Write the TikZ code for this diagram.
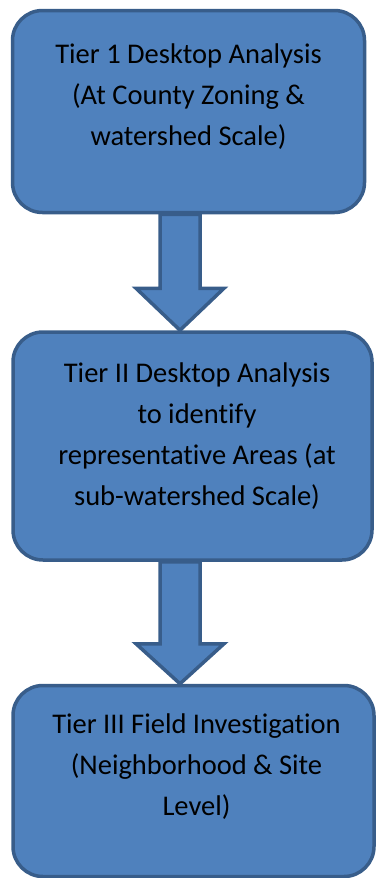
\documentclass[tikz,border=0pt]{standalone}
\usepackage{fontspec}
\setmainfont{Carlito}[Ligatures=NoCommon]
\usepackage{xcolor}
\usepackage{tikz}
\usetikzlibrary{positioning, calc}
\definecolor{tierfill}{HTML}{4F81BD}
\definecolor{tierline}{HTML}{385D8A}

\begin{document}
\begin{tikzpicture}[
      x=1pt, y=-1pt,
      tierbox/.style={draw=tierline, fill=tierfill, line width=3.5pt,
                      rounded corners=30pt, inner sep=0pt},
      tiertext/.style={align=center, text=black,
                       font=\fontsize{28.5}{41}\selectfont},
      fatarrow/.style={draw=tierline, fill=tierfill, line width=3.5pt,
                       line join=miter}]
    \useasboundingbox (0,0) rectangle (375,878);
    \node[tierbox, minimum width=352pt, minimum height=202pt] (b1) at (188.5,111.5) {};
    \node[tierbox, minimum width=359pt, minimum height=228pt] (b2) at (192.5,446) {};
    \node[tierbox, minimum width=361pt, minimum height=191pt] (b3) at (193.5,781) {};
    \node[tiertext] (t1) at ([yshift=14.5pt]b1.center)
        {Tier 1 Desktop Analysis\\(At County Zoning \&\\watershed Scale)};
    \node[tiertext] (t2) at ([xshift=4.5pt, yshift=10pt]b2.center)
        {Tier II Desktop Analysis\\to identify\\representative Areas (at\\sub-watershed Scale)};
    \node[tiertext] (t3) at ([xshift=3pt, yshift=14pt]b3.center)
        {Tier III Field Investigation\\(Neighborhood \& Site\\Level)};
    % block arrows between the tiers
    \path (b1.south) ++(-8.5,0) coordinate (s1);
    \path (b2.north) ++(-12.5,0) coordinate (e1);
    \path (b2.south) ++(-12.5,0) coordinate (s2);
    \path (b3.north) ++(-13.5,0) coordinate (e2);
    \draw[fatarrow] ($(s1)+(-20,0)$) -- ($(s1)+(20,0)$) -- ($(e1)+(20,-42)$)
        -- ($(e1)+(44,-42)$) -- (e1) -- ($(e1)+(-44,-42)$) -- ($(e1)+(-20,-42)$) -- cycle;
    \draw[fatarrow] ($(s2)+(-20,0)$) -- ($(s2)+(20,0)$) -- ($(e2)+(20,-40)$)
        -- ($(e2)+(44,-40)$) -- (e2) -- ($(e2)+(-44,-40)$) -- ($(e2)+(-20,-40)$) -- cycle;
\end{tikzpicture}
\end{document}
